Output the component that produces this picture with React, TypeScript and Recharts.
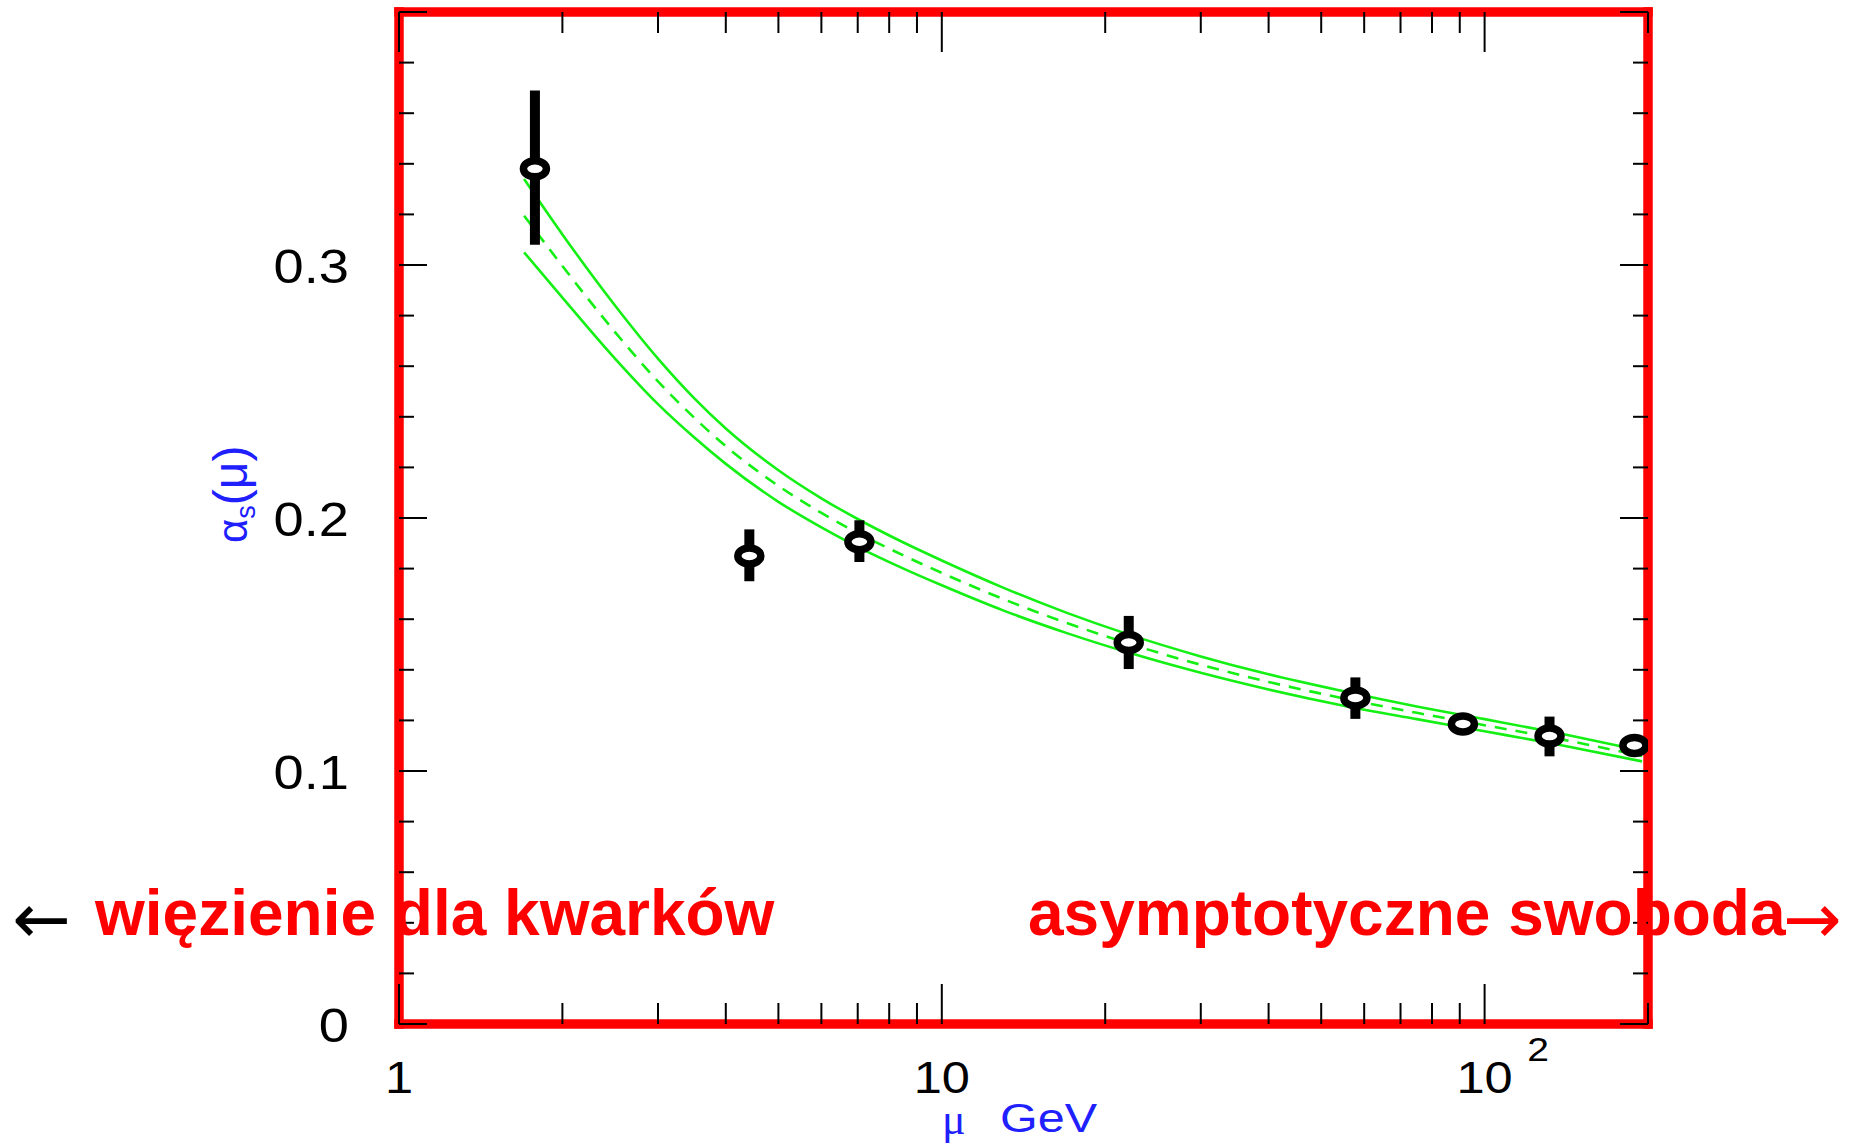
import React from "react"
import { ComposedChart, Line, Scatter, ErrorBar, XAxis, YAxis } from "recharts"

// running coupling band
const curveMu = [1.7, 2, 2.5, 3, 3.5, 4, 5, 6, 7, 8.5, 10, 13, 17, 22, 30, 40, 55, 75, 100, 140, 195]
const upperAlpha = [0.334, 0.3121, 0.284, 0.263, 0.2473, 0.2354, 0.2189, 0.2078, 0.1996, 0.1903, 0.1832, 0.1724, 0.1625, 0.1541, 0.1453, 0.1382, 0.1315, 0.1255, 0.1205, 0.1145, 0.108]
const centralAlpha = [0.3195, 0.2996, 0.2735, 0.254, 0.2396, 0.2284, 0.2127, 0.202, 0.1941, 0.1852, 0.1783, 0.1679, 0.1585, 0.1505, 0.142, 0.1352, 0.1287, 0.123, 0.1181, 0.1123, 0.1059]
const lowerAlpha = [0.305, 0.2871, 0.263, 0.245, 0.2318, 0.2214, 0.2064, 0.1963, 0.1886, 0.18, 0.1734, 0.1634, 0.1545, 0.1469, 0.1388, 0.1322, 0.1258, 0.1205, 0.1157, 0.11, 0.1038]

// measurements
const pointMu = [1.78, 4.42, 7.05, 22.1, 57.8, 91.2, 131.7, 188.8]
const pointAlpha = [0.338, 0.185, 0.1906, 0.1508, 0.1289, 0.1186, 0.1138, 0.1101]
const errLow = [0.03, 0.01, 0.008, 0.0105, 0.0083, 0, 0.008, 0]
const errHigh = [0.031, 0.0105, 0.0085, 0.0105, 0.0081, 0, 0.0077, 0]

const xTickValues = [1, 2, 3, 4, 5, 6, 7, 8, 9, 10, 20, 30, 40, 50, 60, 70, 80, 90, 100, 200]
const xMajorTicks = [1, 10, 100]
const yTickValues = [0, 0.02, 0.04, 0.06, 0.08, 0.1, 0.12, 0.14, 0.16, 0.18, 0.2, 0.22, 0.24, 0.26, 0.28, 0.3, 0.32, 0.34, 0.36, 0.38, 0.4]
const yLabelValues = [0, 0.1, 0.2, 0.3]

const curveData = curveMu.map((mu, i) => ({
  mu,
  upper: upperAlpha[i],
  central: centralAlpha[i],
  lower: lowerAlpha[i],
}))

const pointData = pointMu.map((mu, i) => ({
  mu,
  alpha: pointAlpha[i],
  err: [errLow[i], errHigh[i]],
}))

const RED = "#ff0000"
const GREEN = "#14f014"
const BLUE = "#2020ff"
const frameLine = { stroke: RED, strokeWidth: 9.5, strokeLinecap: "square" as const }
const tickFont = "'Liberation Sans', Arial, sans-serif"

const isMajorY = (v: number) => Math.abs(v * 10 - Math.round(v * 10)) < 1e-6
const yLabel = (v: number) => (v === 0 ? "0" : v.toFixed(1))

const BottomTick = ({ x, y, payload }: any) => {
  const v = payload.value
  const major = xMajorTicks.includes(v)
  return (
    <g>
      <line x1={x} x2={x} y1={y} y2={y - (major ? 40 : 21)} stroke="#000" strokeWidth={2} />
      {major && (
        <g transform={`translate(${x} ${y + 69}) scale(1.15 1)`}>
          <text x={0} y={0} textAnchor="middle" fontFamily={tickFont} fontSize={44} fill="#000">
            {v === 100 ? "10" : String(v)}
          </text>
          {v === 100 && (
            <text x={37} y={-32} fontFamily={tickFont} fontSize={34} fill="#000">
              2
            </text>
          )}
        </g>
      )}
    </g>
  )
}

const TopTick = ({ x, y, payload }: any) => {
  const major = xMajorTicks.includes(payload.value)
  return <line x1={x} x2={x} y1={y} y2={y + (major ? 40 : 21)} stroke="#000" strokeWidth={2} />
}

const LeftTick = ({ x, y, payload }: any) => {
  const v = payload.value
  const major = isMajorY(v)
  const labelled = yLabelValues.some((l) => Math.abs(l - v) < 1e-6)
  return (
    <g>
      <line x1={x} x2={x + (major ? 28 : 15)} y1={y} y2={y} stroke="#000" strokeWidth={2} />
      {labelled && (
        <g transform={`translate(${x - 50} ${y + 18}) scale(1.13 1)`}>
          <text x={0} y={0} textAnchor="end" fontFamily={tickFont} fontSize={48} fill="#000">
            {yLabel(v)}
          </text>
        </g>
      )}
    </g>
  )
}

const RightTick = ({ x, y, payload }: any) => {
  const major = isMajorY(payload.value)
  return <line x1={x} x2={x - (major ? 28 : 15)} y1={y} y2={y} stroke="#000" strokeWidth={2} />
}

const Ring = ({ cx, cy }: any) => (
  <ellipse cx={cx} cy={cy} rx={11.5} ry={8} fill="#fff" stroke="#000" strokeWidth={7.5} />
)

const App = () => {
  return (
    <div style={{ position: "absolute", left: 0, top: 0, width: 1858, height: 1145, background: "#fff" }}>
      <ComposedChart
        width={1858}
        height={1145}
        data={curveData}
        margin={{ top: 11, right: 209, bottom: 120, left: 398 }}
      >
        <XAxis
          dataKey="mu"
          type="number"
          scale="log"
          domain={[1, 200]}
          allowDataOverflow
          ticks={xTickValues}
          interval={0}
          height={1}
          tickSize={0}
          tickMargin={0}
          tickLine={false}
          axisLine={frameLine}
          tick={BottomTick}
        />
        <XAxis
          xAxisId="top"
          orientation="top"
          dataKey="mu"
          type="number"
          scale="log"
          domain={[1, 200]}
          allowDataOverflow
          ticks={xTickValues}
          interval={0}
          height={1}
          tickSize={0}
          tickMargin={0}
          tickLine={false}
          axisLine={frameLine}
          tick={TopTick}
        />
        <YAxis
          type="number"
          domain={[0, 0.4]}
          allowDataOverflow
          ticks={yTickValues}
          interval={0}
          width={1}
          tickSize={0}
          tickMargin={0}
          tickLine={false}
          axisLine={frameLine}
          tick={LeftTick}
        />
        <YAxis
          yAxisId="right"
          orientation="right"
          type="number"
          domain={[0, 0.4]}
          allowDataOverflow
          ticks={yTickValues}
          interval={0}
          width={1}
          tickSize={0}
          tickMargin={0}
          tickLine={false}
          axisLine={frameLine}
          tick={RightTick}
        />
        <Line dataKey="upper" type="monotone" stroke={GREEN} strokeWidth={2.6} dot={false} isAnimationActive={false} />
        <Line dataKey="lower" type="monotone" stroke={GREEN} strokeWidth={2.6} dot={false} isAnimationActive={false} />
        <Line
          dataKey="central"
          type="monotone"
          stroke={GREEN}
          strokeWidth={2.6}
          strokeDasharray="12 9"
          dot={false}
          isAnimationActive={false}
        />
        <Scatter data={pointData} dataKey="alpha" shape={Ring} isAnimationActive={false}>
          <ErrorBar dataKey="err" direction="y" width={0} strokeWidth={10} stroke="#000" />
        </Scatter>
      </ComposedChart>

      <svg
        width={1858}
        height={1145}
        style={{ position: "absolute", left: 0, top: 0, pointerEvents: "none" }}
      >
        {/* axis titles */}
        <g transform="translate(247 543) rotate(-90)">
          <text fontFamily={tickFont} fontSize={42} fill={BLUE}>
            α<tspan fontSize={27} dy={8}>s</tspan>
            <tspan dy={-8} fontSize={48}>(μ)</tspan>
          </text>
        </g>
        <text x={942} y={1134} fontFamily="'Liberation Serif', serif" fontSize={44} fill={BLUE}>
          μ
        </text>
        <text
          x={1000}
          y={1132}
          fontFamily={tickFont}
          fontSize={40}
          fill={BLUE}
          textLength={97}
          lengthAdjust="spacingAndGlyphs"
        >
          GeV
        </text>

        {/* annotations */}
        <text x={12} y={943} fontFamily="'DejaVu Sans', sans-serif" fontSize={70} fill="#000">
          ←
        </text>
        <text x={95} y={935} fontFamily={tickFont} fontWeight="bold" fontSize={64} fill={RED}>
          więzienie dla kwarków
        </text>
        <text x={1028} y={935} fontFamily={tickFont} fontWeight="bold" fontSize={64} fill={RED}>
          asymptotyczne swoboda
        </text>
        <text x={1783} y={943} fontFamily="'DejaVu Sans', sans-serif" fontSize={70} fill={RED}>
          →
        </text>
      </svg>
    </div>
  )
}

export default App
